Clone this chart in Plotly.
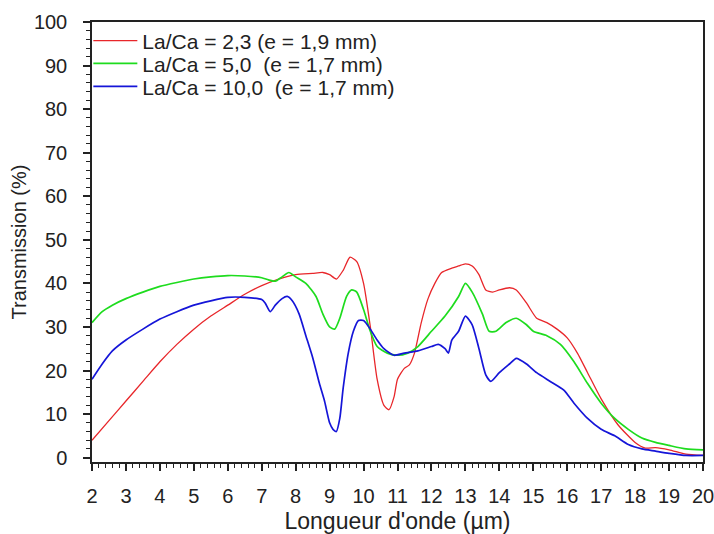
import plotly.graph_objects as go

# Red: La/Ca = 2,3
red_x = [2, 2.5, 3, 3.5, 4, 4.5, 5, 5.5, 6, 6.5, 7, 7.5, 8, 8.5, 8.8, 9.0, 9.2, 9.4, 9.6, 9.8,
         10.0, 10.2, 10.4, 10.6, 10.75, 10.9, 11.0, 11.2, 11.35, 11.5, 11.7, 11.9, 12.1, 12.3,
         12.6, 12.8, 13.0, 13.2, 13.4, 13.6, 13.8, 14.0, 14.3, 14.5, 14.8, 15.1, 15.4, 15.7,
         16.0, 16.3, 16.6, 17.0, 17.5, 18.0, 18.3, 18.6, 19.0, 19.5, 20]
red_y = [4, 8.5, 13, 17.5, 22, 26, 29.5, 32.5, 35, 37.5, 39.5, 41, 42, 42.3, 42.5, 42, 41, 43, 46, 45,
         40, 30, 18, 12, 11, 14, 18, 20.5, 21.3, 24, 31, 36.5, 40, 42.5,
         43.5, 44, 44.5, 44, 42, 38.5, 38, 38.5, 39, 38.5, 35.5, 32, 31, 29.5,
         27.5, 24, 19.5, 13.5, 7.5, 3.5, 2.2, 2.3, 1.8, 0.8, 0.5]

# Green: La/Ca = 5,0
green_x = [2, 2.3, 2.6, 3, 3.5, 4, 4.5, 5, 5.5, 6, 6.5, 7, 7.2, 7.4, 7.6, 7.8, 8.0, 8.3, 8.6, 8.8,
           9.0, 9.15, 9.3, 9.5, 9.65, 9.8, 10.0, 10.2, 10.4, 10.7, 11.0, 11.3, 11.6, 12.0, 12.4,
           12.8, 13.0, 13.2, 13.5, 13.7, 13.9, 14.2, 14.5, 14.8, 15.0, 15.4, 15.8, 16.2, 16.6,
           17.0, 17.4, 17.8, 18.2, 18.6, 19.0, 19.5, 20]
green_y = [31, 33.5, 35, 36.5, 38, 39.3, 40.2, 41, 41.5, 41.8, 41.7, 41.3, 40.8, 40.5, 41.5, 42.5, 41.5, 40, 37, 33,
           30, 29.5, 32, 37, 38.5, 38, 34, 29, 25.5, 24, 23.5, 24, 25.5, 29, 32.5,
           37, 40, 38, 33, 29, 29, 31, 32, 30.5, 29, 28, 26, 22, 17,
           12.5, 9, 6.5, 4.5, 3.5, 2.8, 2, 1.8]

# Blue: La/Ca = 10,0
blue_x = [2, 2.3, 2.6, 3, 3.5, 4, 4.5, 5, 5.5, 6, 6.5, 7, 7.1, 7.25, 7.4, 7.6, 7.75, 7.9, 8.1, 8.3,
          8.5, 8.7, 8.85, 9.0, 9.1, 9.2, 9.3, 9.4, 9.55, 9.7, 9.85, 10.0, 10.2, 10.4, 10.6, 10.9,
          11.2, 11.6, 12.0, 12.2, 12.4, 12.5, 12.6, 12.8, 13.0, 13.2, 13.4, 13.6, 13.75, 14.0,
          14.3, 14.5, 14.8, 15.1, 15.5, 15.9, 16.2, 16.6, 17.0, 17.4, 17.8, 18.2, 18.6, 19.0, 19.5, 20]
blue_y = [18, 21.5, 24.5, 27, 29.5, 31.8, 33.5, 35, 36, 36.8, 36.8, 36.3, 35.5, 33.5, 35, 36.5, 37, 36, 33, 28,
          23, 17, 13, 8, 6.5, 6, 9, 16, 24, 29, 31.5, 31.5, 29.5, 27, 25, 23.5,
          24, 24.5, 25.5, 26, 25, 24, 27, 29, 32.5, 30.5, 25, 19, 17.5, 19.5,
          21.5, 22.8, 21.5, 19.5, 17.5, 15.5, 12.5, 9, 6.5, 5, 3, 2, 1.5, 1, 0.5, 0.5]

names = ["La/Ca = 2,3 (e = 1,9 mm)",
         "La/Ca = 5,0 \u00a0(e = 1,7 mm)",
         "La/Ca = 10,0 \u00a0(e = 1,7 mm)"]

font_family = "Liberation Sans, Arial, sans-serif"

fig = go.Figure()
fig.add_trace(go.Scatter(x=red_x, y=red_y, mode="lines", name=names[0], legend="legend",
                         line=dict(color="#e8262a", width=1.3, shape="spline", smoothing=0.6)))
fig.add_trace(go.Scatter(x=green_x, y=green_y, mode="lines", name=names[1], legend="legend2",
                         line=dict(color="#1edc1e", width=1.7, shape="spline", smoothing=0.6)))
fig.add_trace(go.Scatter(x=blue_x, y=blue_y, mode="lines", name=names[2], legend="legend3",
                         line=dict(color="#1515d8", width=1.7, shape="spline", smoothing=0.6)))

leg_common = dict(x=-0.006, xanchor="left", yanchor="middle", bgcolor="rgba(0,0,0,0)",
                  font=dict(size=21), itemwidth=44, borderwidth=0)

fig.update_layout(
    width=714, height=534,
    margin=dict(l=92, r=11, t=22, b=72, autoexpand=False),
    paper_bgcolor="white", plot_bgcolor="white",
    font=dict(family=font_family, size=20, color="#222222"),
    legend=dict(y=0.957, **leg_common),
    legend2=dict(y=0.905, **leg_common),
    legend3=dict(y=0.853, **leg_common),
    showlegend=True,
)
fig.update_xaxes(
    range=[2, 20], tickmode="linear", tick0=2, dtick=1, automargin=False,
    showgrid=False, zeroline=False, showline=True, linecolor="#222222", linewidth=1.5,
    mirror=True, ticks="outside", ticklen=7, tickwidth=1.5, tickcolor="#222222",
    minor=dict(tickmode="linear", tick0=2, dtick=0.2, ticks="outside", ticklen=4,
               tickwidth=1, tickcolor="#222222", showgrid=False),
    ticklabelstandoff=8, ticklabeloverflow="allow",
    title=dict(text="Longueur d'onde (µm)", font=dict(size=23), standoff=8),
)
fig.update_yaxes(
    range=[-1, 100], tickmode="linear", tick0=0, dtick=10, automargin=False,
    showgrid=False, zeroline=False, showline=True, linecolor="#222222", linewidth=1.5,
    mirror=True, ticks="outside", ticklen=7, tickwidth=1.5, tickcolor="#222222",
    minor=dict(tickmode="linear", tick0=0, dtick=2, ticks="outside", ticklen=4,
               tickwidth=1, tickcolor="#222222", showgrid=False),
    ticklabelstandoff=12,
    title=dict(text="Transmission (%)", font=dict(size=20), standoff=2),
)

fig.write_html("out.html", config={"displayModeBar": False},
               post_script="document.body.style.margin='0';")
